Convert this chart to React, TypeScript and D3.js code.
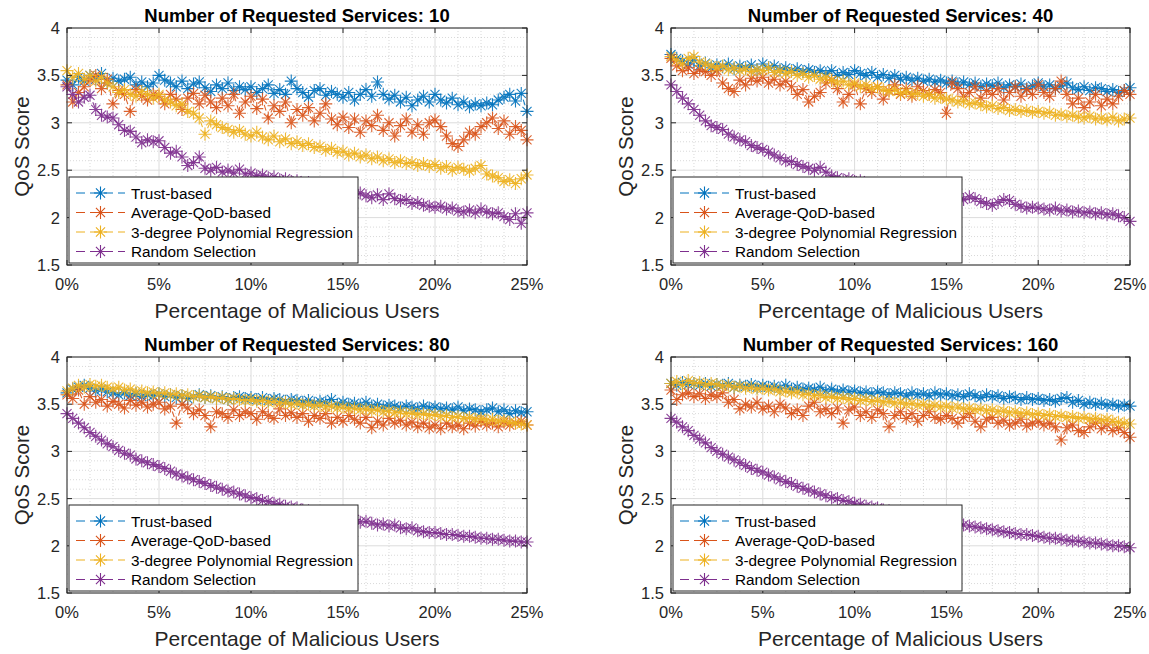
import React, { useEffect, useRef } from "react";
import * as d3 from "d3";

const W = 1149;
const H = 654;

const titles = [
  "Number of Requested Services: 10",
  "Number of Requested Services: 40",
  "Number of Requested Services: 80",
  "Number of Requested Services: 160",
];
const seriesNames = ["Trust-based", "Average-QoD-based", "3-degree Polynomial Regression", "Random Selection"];
const colors = ["#0072BD", "#D95319", "#EDB120", "#7E2F8E"];
const xTicks = [0, 5, 10, 15, 20, 25];
const yTicks = [1.5, 2, 2.5, 3, 3.5, 4];

// 81 samples, 0% .. 25% of malicious users
const xPct = d3.range(81).map((i) => (i * 25) / 80);

// ---- 10 requested services
const trust10 = [
  3.45, 3.40, 3.48, 3.44, 3.50, 3.46, 3.52, 3.42, 3.47, 3.44, 3.46, 3.48, 3.40, 3.43, 3.38, 3.42,
  3.50, 3.45, 3.42, 3.38, 3.44, 3.36, 3.41, 3.43, 3.37, 3.33, 3.40, 3.36, 3.42, 3.34, 3.38, 3.35,
  3.38, 3.32, 3.36, 3.40, 3.31, 3.35, 3.30, 3.44, 3.36, 3.32, 3.27, 3.34, 3.36, 3.29, 3.33, 3.30,
  3.27, 3.32, 3.24, 3.30, 3.35, 3.28, 3.43, 3.30, 3.25, 3.29, 3.22, 3.27, 3.18, 3.24, 3.28, 3.22,
  3.30, 3.24, 3.21, 3.26, 3.19, 3.22, 3.17, 3.20, 3.18, 3.21, 3.19, 3.24, 3.27, 3.30, 3.23, 3.31, 3.12,
];
const avg10 = [
  3.40, 3.22, 3.32, 3.38, 3.45, 3.50, 3.36, 3.46, 3.20, 3.34, 3.30, 3.12, 3.35, 3.28, 3.24, 3.30,
  3.28, 3.20, 3.30, 3.25, 3.14, 3.26, 3.31, 3.20, 3.29, 3.22, 3.16, 3.26, 3.18, 3.30, 3.10, 3.22,
  3.28, 3.15, 3.25, 3.05, 3.18, 3.12, 3.22, 3.00, 3.14, 3.08, 3.16, 3.02, 3.10, 3.20, 3.04, 2.98,
  3.06, 2.95, 3.04, 2.90, 3.02, 2.97, 3.08, 2.92, 3.00, 2.86, 2.97, 3.04, 2.90, 2.98, 2.88, 3.00,
  3.03, 2.96, 2.86, 2.78, 2.75, 2.82, 2.90, 2.88, 2.96, 3.00, 3.05, 2.94, 3.02, 2.88, 2.96, 2.92, 2.82,
];
const poly10 = [
  3.55, 3.48, 3.52, 3.46, 3.50, 3.44, 3.48, 3.42, 3.38, 3.32, 3.35, 3.30, 3.28, 3.33, 3.30, 3.26,
  3.30, 3.24, 3.22, 3.18, 3.20, 3.12, 3.10, 3.05, 2.88, 3.02, 2.98, 2.95, 2.93, 2.90, 2.92, 2.88,
  2.86, 2.90, 2.85, 2.82, 2.86, 2.80, 2.83, 2.78, 2.80, 2.76, 2.78, 2.74, 2.75, 2.71, 2.73, 2.69,
  2.70, 2.66, 2.68, 2.64, 2.66, 2.62, 2.64, 2.60, 2.62, 2.58, 2.60, 2.57, 2.58, 2.55, 2.57, 2.54,
  2.56, 2.52, 2.54, 2.50, 2.53, 2.51, 2.49, 2.52, 2.55, 2.46, 2.44, 2.42, 2.38, 2.40, 2.36, 2.41, 2.45,
];
const rand10 = [
  3.38, 3.30, 3.22, 3.27, 3.29, 3.14, 3.08, 3.06, 3.05, 2.98, 2.92, 2.91, 2.85, 2.79, 2.82, 2.80,
  2.81, 2.74, 2.68, 2.70, 2.64, 2.55, 2.58, 2.64, 2.52, 2.50, 2.53, 2.48, 2.50, 2.47, 2.51, 2.46,
  2.47, 2.44, 2.45, 2.42, 2.43, 2.40, 2.41, 2.38, 2.39, 2.36, 2.37, 2.35, 2.33, 2.34, 2.30, 2.28,
  2.29, 2.27, 2.25, 2.26, 2.23, 2.21, 2.24, 2.19, 2.25, 2.20, 2.18, 2.19, 2.15, 2.16, 2.13, 2.12,
  2.11, 2.12, 2.09, 2.10, 2.07, 2.06, 2.08, 2.05, 2.09, 2.06, 2.04, 2.05, 2.01, 1.98, 2.04, 1.94, 2.05,
];

// ---- 40 requested services
const trust40 = [
  3.72, 3.68, 3.65, 3.62, 3.66, 3.60, 3.63, 3.58, 3.61, 3.59, 3.62, 3.57, 3.60, 3.58, 3.61, 3.56,
  3.62, 3.58, 3.60, 3.56, 3.58, 3.55, 3.57, 3.54, 3.56, 3.53, 3.55, 3.52, 3.55, 3.50, 3.53, 3.51,
  3.55, 3.52, 3.50, 3.53, 3.48, 3.51, 3.47, 3.50, 3.46, 3.48, 3.45, 3.47, 3.44, 3.46, 3.43, 3.45,
  3.42, 3.44, 3.41, 3.43, 3.40, 3.42, 3.38, 3.41, 3.39, 3.42, 3.37, 3.40, 3.38, 3.41, 3.36, 3.39,
  3.42, 3.38, 3.40, 3.36, 3.39, 3.42, 3.37, 3.35, 3.38, 3.34, 3.37, 3.36, 3.33, 3.35, 3.32, 3.34, 3.37,
];
const avg40 = [
  3.68, 3.60, 3.55, 3.58, 3.52, 3.56, 3.54, 3.50, 3.55, 3.42, 3.36, 3.33, 3.45, 3.40, 3.47, 3.44,
  3.48, 3.42, 3.46, 3.40, 3.44, 3.38, 3.30, 3.35, 3.22, 3.28, 3.32, 3.42, 3.45, 3.36, 3.22, 3.30,
  3.40, 3.20, 3.36, 3.32, 3.38, 3.25, 3.34, 3.40, 3.30, 3.36, 3.28, 3.38, 3.34, 3.30, 3.35, 3.32,
  3.10, 3.42, 3.36, 3.28, 3.32, 3.38, 3.26, 3.34, 3.30, 3.36, 3.24, 3.32, 3.38, 3.28, 3.35, 3.30,
  3.40, 3.32, 3.28, 3.36, 3.44, 3.30, 3.20, 3.26, 3.16, 3.22, 3.30, 3.18, 3.25, 3.20, 3.28, 3.34, 3.30,
];
const poly40 = [
  3.70, 3.66, 3.62, 3.68, 3.70, 3.64, 3.62, 3.60, 3.58, 3.60, 3.56, 3.58, 3.55, 3.57, 3.54, 3.56,
  3.55, 3.58, 3.53, 3.55, 3.52, 3.54, 3.50, 3.52, 3.48, 3.50, 3.46, 3.48, 3.45, 3.42, 3.44, 3.40,
  3.42, 3.38, 3.40, 3.36, 3.38, 3.35, 3.33, 3.35, 3.31, 3.33, 3.30, 3.31, 3.28, 3.30, 3.26, 3.27,
  3.25, 3.24, 3.22, 3.23, 3.20, 3.21, 3.19, 3.17, 3.18, 3.15, 3.16, 3.13, 3.14, 3.12, 3.13, 3.11,
  3.12, 3.10, 3.11, 3.08, 3.09, 3.07, 3.08, 3.06, 3.05, 3.07, 3.04, 3.05, 3.03, 3.06, 3.02, 3.04, 3.05,
];
const rand40 = [
  3.40, 3.33, 3.26, 3.20, 3.14, 3.08, 3.02, 2.97, 2.95, 2.93, 2.88, 2.85, 2.82, 2.80, 2.76, 2.74,
  2.72, 2.69, 2.66, 2.63, 2.60, 2.59, 2.56, 2.54, 2.52, 2.50, 2.53, 2.48, 2.44, 2.42, 2.40, 2.41,
  2.38, 2.39, 2.36, 2.35, 2.33, 2.34, 2.31, 2.30, 2.28, 2.29, 2.27, 2.26, 2.24, 2.25, 2.23, 2.22,
  2.20, 2.25, 2.21, 2.19, 2.22, 2.20, 2.17, 2.15, 2.13, 2.16, 2.19, 2.18, 2.14, 2.12, 2.10, 2.11,
  2.10, 2.09, 2.08, 2.10, 2.07, 2.08, 2.06, 2.07, 2.05, 2.06, 2.04, 2.05, 2.03, 2.04, 2.02, 2.00, 1.96,
];

// ---- 80 requested services
const trust80 = [
  3.62, 3.66, 3.68, 3.70, 3.67, 3.64, 3.66, 3.63, 3.62, 3.60, 3.62, 3.59, 3.61, 3.58, 3.60, 3.59,
  3.61, 3.58, 3.60, 3.57, 3.59, 3.56, 3.58, 3.60, 3.57, 3.59, 3.56, 3.58, 3.55, 3.57, 3.58, 3.56,
  3.57, 3.55, 3.57, 3.54, 3.56, 3.55, 3.53, 3.55, 3.54, 3.52, 3.54, 3.51, 3.53, 3.52, 3.55, 3.50,
  3.52, 3.50, 3.51, 3.49, 3.52, 3.48, 3.50, 3.47, 3.49, 3.48, 3.46, 3.48, 3.47, 3.45, 3.48, 3.46,
  3.47, 3.45, 3.46, 3.44, 3.47, 3.43, 3.45, 3.44, 3.42, 3.44, 3.46, 3.42, 3.44, 3.40, 3.43, 3.41, 3.42,
];
const avg80 = [
  3.60, 3.56, 3.65, 3.50, 3.58, 3.52, 3.55, 3.48, 3.53, 3.50, 3.46, 3.54, 3.49, 3.52, 3.47, 3.50,
  3.52, 3.45, 3.48, 3.30, 3.50, 3.46, 3.40, 3.44, 3.38, 3.26, 3.42, 3.40, 3.36, 3.44, 3.38, 3.42,
  3.40, 3.34, 3.42, 3.38, 3.35, 3.45, 3.38, 3.41, 3.36, 3.40, 3.32, 3.38, 3.35, 3.40, 3.30, 3.36,
  3.32, 3.38, 3.34, 3.30, 3.36, 3.25, 3.32, 3.28, 3.35, 3.30, 3.33, 3.28, 3.31, 3.26, 3.30, 3.25,
  3.28, 3.24, 3.30, 3.26, 3.28, 3.24, 3.30, 3.27, 3.32, 3.28, 3.30, 3.26, 3.31, 3.28, 3.30, 3.32, 3.28,
];
const poly80 = [
  3.64, 3.67, 3.70, 3.68, 3.71, 3.69, 3.70, 3.68, 3.66, 3.68, 3.65, 3.66, 3.63, 3.64, 3.62, 3.63,
  3.61, 3.62, 3.60, 3.61, 3.59, 3.60, 3.58, 3.59, 3.57, 3.58, 3.56, 3.57, 3.55, 3.56, 3.55, 3.54,
  3.55, 3.53, 3.54, 3.52, 3.53, 3.51, 3.52, 3.50, 3.51, 3.49, 3.50, 3.48, 3.49, 3.47, 3.48, 3.46,
  3.47, 3.45, 3.46, 3.44, 3.45, 3.43, 3.44, 3.42, 3.43, 3.41, 3.42, 3.40, 3.41, 3.39, 3.40, 3.38,
  3.39, 3.37, 3.38, 3.36, 3.37, 3.35, 3.36, 3.34, 3.35, 3.33, 3.34, 3.32, 3.33, 3.31, 3.30, 3.29, 3.28,
];
const rand80 = [
  3.40, 3.35, 3.30, 3.25, 3.20, 3.16, 3.12, 3.08, 3.05, 3.01, 2.98, 2.96, 2.92, 2.90, 2.88, 2.86,
  2.84, 2.82, 2.79, 2.76, 2.74, 2.72, 2.70, 2.68, 2.66, 2.64, 2.62, 2.60, 2.58, 2.57, 2.55, 2.53,
  2.51, 2.50, 2.48, 2.47, 2.45, 2.44, 2.42, 2.41, 2.40, 2.38, 2.37, 2.36, 2.34, 2.33, 2.32, 2.30,
  2.29, 2.27, 2.28, 2.25, 2.26, 2.24, 2.22, 2.23, 2.21, 2.22, 2.19, 2.18, 2.19, 2.16, 2.15, 2.14,
  2.14, 2.13, 2.12, 2.12, 2.11, 2.10, 2.10, 2.09, 2.08, 2.08, 2.07, 2.07, 2.06, 2.05, 2.05, 2.04, 2.04,
];

// ---- 160 requested services
const trust160 = [
  3.72, 3.70, 3.73, 3.71, 3.72, 3.70, 3.72, 3.69, 3.71, 3.70, 3.72, 3.68, 3.70, 3.69, 3.71, 3.68,
  3.70, 3.68, 3.69, 3.67, 3.70, 3.66, 3.68, 3.66, 3.67, 3.65, 3.68, 3.64, 3.66, 3.63, 3.65, 3.63,
  3.64, 3.62, 3.63, 3.61, 3.63, 3.62, 3.60, 3.62, 3.61, 3.59, 3.62, 3.60, 3.61, 3.59, 3.62, 3.60,
  3.61, 3.59, 3.60, 3.58, 3.61, 3.59, 3.57, 3.60, 3.58, 3.59, 3.56, 3.58, 3.57, 3.55, 3.57, 3.55,
  3.56, 3.54, 3.55, 3.53, 3.56, 3.57, 3.52, 3.54, 3.50, 3.52, 3.50, 3.51, 3.49, 3.50, 3.48, 3.49, 3.48,
];
const avg160 = [
  3.65, 3.55, 3.60, 3.62, 3.58, 3.61, 3.56, 3.60, 3.58, 3.62, 3.52, 3.55, 3.45, 3.50, 3.47, 3.52,
  3.45, 3.48, 3.42, 3.50, 3.46, 3.40, 3.44, 3.38, 3.48, 3.52, 3.42, 3.45, 3.40, 3.46, 3.30, 3.44,
  3.47, 3.38, 3.42, 3.36, 3.44, 3.40, 3.26, 3.38, 3.42, 3.35, 3.40, 3.32, 3.38, 3.42, 3.36, 3.34,
  3.38, 3.35, 3.30, 3.36, 3.40, 3.32, 3.26, 3.34, 3.36, 3.30, 3.33, 3.28, 3.30, 3.34, 3.27, 3.30,
  3.32, 3.28, 3.30, 3.26, 3.12, 3.25, 3.28, 3.22, 3.20, 3.26, 3.30, 3.24, 3.28, 3.22, 3.25, 3.20, 3.15,
];
const poly160 = [
  3.72, 3.74, 3.70, 3.75, 3.72, 3.73, 3.70, 3.72, 3.71, 3.69, 3.70, 3.68, 3.69, 3.67, 3.68, 3.66,
  3.67, 3.65, 3.66, 3.63, 3.64, 3.62, 3.63, 3.60, 3.61, 3.59, 3.60, 3.57, 3.58, 3.56, 3.57, 3.55,
  3.56, 3.54, 3.55, 3.53, 3.54, 3.52, 3.53, 3.51, 3.52, 3.50, 3.51, 3.49, 3.50, 3.48, 3.49, 3.47,
  3.48, 3.46, 3.47, 3.45, 3.46, 3.44, 3.45, 3.43, 3.44, 3.42, 3.43, 3.41, 3.42, 3.40, 3.41, 3.39,
  3.40, 3.38, 3.39, 3.37, 3.38, 3.36, 3.37, 3.35, 3.36, 3.34, 3.35, 3.33, 3.34, 3.32, 3.31, 3.30, 3.29,
];
const rand160 = [
  3.35, 3.31, 3.26, 3.22, 3.17, 3.13, 3.09, 3.04, 3.00, 2.97, 2.94, 2.91, 2.88, 2.85, 2.82, 2.80,
  2.78, 2.75, 2.73, 2.70, 2.68, 2.66, 2.63, 2.61, 2.59, 2.57, 2.55, 2.53, 2.51, 2.50, 2.48, 2.47,
  2.45, 2.44, 2.42, 2.41, 2.40, 2.38, 2.37, 2.36, 2.35, 2.33, 2.32, 2.31, 2.30, 2.28, 2.27, 2.26,
  2.25, 2.24, 2.23, 2.22, 2.21, 2.20, 2.19, 2.18, 2.17, 2.16, 2.15, 2.14, 2.13, 2.12, 2.12, 2.11,
  2.10, 2.09, 2.08, 2.08, 2.07, 2.06, 2.05, 2.05, 2.04, 2.03, 2.03, 2.02, 2.01, 2.00, 2.00, 1.99, 1.98,
];

const panels = [
  { title: titles[0], series: [trust10, avg10, poly10, rand10], left: 67, top: 28, w: 460, h: 237 },
  { title: titles[1], series: [trust40, avg40, poly40, rand40], left: 671, top: 28, w: 459, h: 237 },
  { title: titles[2], series: [trust80, avg80, poly80, rand80], left: 67, top: 357, w: 460, h: 236 },
  { title: titles[3], series: [trust160, avg160, poly160, rand160], left: 671, top: 357, w: 459, h: 236 },
];

const FONT = "'Liberation Sans', Arial, Helvetica, sans-serif";
const AX = "#262626";

// MATLAB '*' marker
const asterisk = (r: number) => {
  const a = r * 0.7;
  return `M${-r},0L${r},0M0,${-r}L0,${r}M${-a},${-a}L${a},${a}M${-a},${a}L${a},${-a}`;
};

const App = () => {
  const svgRef = useRef<SVGSVGElement>(null);

  useEffect(() => {
    const svg = d3.select(svgRef.current);
    svg.selectAll("*").remove();

    panels.forEach((p) => {
      const x = d3.scaleLinear().domain([0, 25]).range([p.left, p.left + p.w]);
      const y = d3.scaleLinear().domain([1.5, 4]).range([p.top + p.h, p.top]);
      const g = svg.append("g");

      // minor grid (dotted)
      const xMinor = d3.range(0, 25.01, 1.25).filter((v) => v % 5 !== 0);
      const yMinor = d3.range(1.5, 4.001, 0.1).filter((v) => Math.abs(v * 2 - Math.round(v * 2)) > 0.01);
      g.selectAll(".xm")
        .data(xMinor)
        .enter()
        .append("line")
        .attr("x1", (d) => x(d))
        .attr("x2", (d) => x(d))
        .attr("y1", p.top)
        .attr("y2", p.top + p.h)
        .attr("stroke", "#c8c8c8")
        .attr("stroke-width", 0.7)
        .attr("stroke-dasharray", "1,2");
      g.selectAll(".ym")
        .data(yMinor)
        .enter()
        .append("line")
        .attr("x1", p.left)
        .attr("x2", p.left + p.w)
        .attr("y1", (d) => y(d))
        .attr("y2", (d) => y(d))
        .attr("stroke", "#c8c8c8")
        .attr("stroke-width", 0.7)
        .attr("stroke-dasharray", "1,2");

      // major grid
      g.selectAll(".xg")
        .data(xTicks)
        .enter()
        .append("line")
        .attr("x1", (d) => x(d))
        .attr("x2", (d) => x(d))
        .attr("y1", p.top)
        .attr("y2", p.top + p.h)
        .attr("stroke", "#dcdcdc")
        .attr("stroke-width", 1);
      g.selectAll(".yg")
        .data(yTicks)
        .enter()
        .append("line")
        .attr("x1", p.left)
        .attr("x2", p.left + p.w)
        .attr("y1", (d) => y(d))
        .attr("y2", (d) => y(d))
        .attr("stroke", "#dcdcdc")
        .attr("stroke-width", 1);

      // series: dashed line + asterisk markers
      p.series.forEach((vals, si) => {
        const pts = vals.map((v, i) => [xPct[i], v] as [number, number]);
        g.append("path")
          .attr("d", d3.line<[number, number]>().x((d) => x(d[0])).y((d) => y(d[1]))(pts) ?? "")
          .attr("fill", "none")
          .attr("stroke", colors[si])
          .attr("stroke-width", 1.1)
          .attr("stroke-dasharray", "6,4")
          .attr("opacity", 0.9);
        g.selectAll(".m" + si)
          .data(pts)
          .enter()
          .append("path")
          .attr("d", asterisk(6.5))
          .attr("transform", (d) => `translate(${x(d[0])},${y(d[1])})`)
          .attr("fill", "none")
          .attr("stroke", colors[si])
          .attr("stroke-width", 1.1)
          .attr("opacity", 0.9);
      });

      // box + inward ticks
      g.append("rect")
        .attr("x", p.left)
        .attr("y", p.top)
        .attr("width", p.w)
        .attr("height", p.h)
        .attr("fill", "none")
        .attr("stroke", AX)
        .attr("stroke-width", 1);
      xTicks.forEach((t) => {
        g.append("line").attr("x1", x(t)).attr("x2", x(t)).attr("y1", p.top + p.h).attr("y2", p.top + p.h - 5).attr("stroke", AX);
        g.append("line").attr("x1", x(t)).attr("x2", x(t)).attr("y1", p.top).attr("y2", p.top + 5).attr("stroke", AX);
      });
      yTicks.forEach((t) => {
        g.append("line").attr("x1", p.left).attr("x2", p.left + 5).attr("y1", y(t)).attr("y2", y(t)).attr("stroke", AX);
        g.append("line").attr("x1", p.left + p.w).attr("x2", p.left + p.w - 5).attr("y1", y(t)).attr("y2", y(t)).attr("stroke", AX);
      });

      // tick labels
      g.selectAll(".xt")
        .data(xTicks)
        .enter()
        .append("text")
        .attr("x", (d) => x(d))
        .attr("y", p.top + p.h + 25)
        .attr("text-anchor", "middle")
        .attr("font-family", FONT)
        .attr("font-size", 16.5)
        .attr("fill", AX)
        .text((d) => `${d}%`);
      g.selectAll(".yt")
        .data(yTicks)
        .enter()
        .append("text")
        .attr("x", p.left - 7)
        .attr("y", (d) => y(d))
        .attr("dy", "0.36em")
        .attr("text-anchor", "end")
        .attr("font-family", FONT)
        .attr("font-size", 16.5)
        .attr("fill", AX)
        .text((d) => String(d));

      // axis labels and title
      g.append("text")
        .attr("x", p.left + p.w / 2)
        .attr("y", p.top + p.h + 53)
        .attr("text-anchor", "middle")
        .attr("font-family", FONT)
        .attr("font-size", 21)
        .attr("fill", AX)
        .text("Percentage of Malicious Users");
      g.append("text")
        .attr("transform", `translate(${p.left - 38},${p.top + p.h / 2}) rotate(-90)`)
        .attr("text-anchor", "middle")
        .attr("font-family", FONT)
        .attr("font-size", 20.5)
        .attr("fill", AX)
        .text("QoS Score");
      g.append("text")
        .attr("x", p.left + p.w / 2)
        .attr("y", p.top - 6)
        .attr("text-anchor", "middle")
        .attr("font-family", FONT)
        .attr("font-size", 18.5)
        .attr("font-weight", "bold")
        .attr("fill", "#000")
        .text(p.title);

      // legend
      const lx = p.left + 2;
      const ly = p.top + p.h - 88;
      const lg = g.append("g");
      lg.append("rect")
        .attr("x", lx)
        .attr("y", ly)
        .attr("width", 289)
        .attr("height", 86)
        .attr("fill", "#fff")
        .attr("stroke", AX)
        .attr("stroke-width", 1);
      seriesNames.forEach((name, si) => {
        const cy = ly + 16 + si * 19.5;
        lg.append("line")
          .attr("x1", lx + 7)
          .attr("x2", lx + 56)
          .attr("y1", cy)
          .attr("y2", cy)
          .attr("stroke", colors[si])
          .attr("stroke-width", 1)
          .attr("stroke-dasharray", "9,5");
        lg.append("path")
          .attr("d", asterisk(6.5))
          .attr("transform", `translate(${lx + 31.5},${cy})`)
          .attr("fill", "none")
          .attr("stroke", colors[si])
          .attr("stroke-width", 1.1);
        lg.append("text")
          .attr("x", lx + 62)
          .attr("y", cy)
          .attr("dy", "0.36em")
          .attr("font-family", FONT)
          .attr("font-size", 15.3)
          .attr("fill", "#000")
          .text(name);
      });
    });
  }, []);

  return (
    <svg
      ref={svgRef}
      width={W}
      height={H}
      style={{ position: "absolute", left: 0, top: 0, background: "#fff" }}
    />
  );
};

export default App;
